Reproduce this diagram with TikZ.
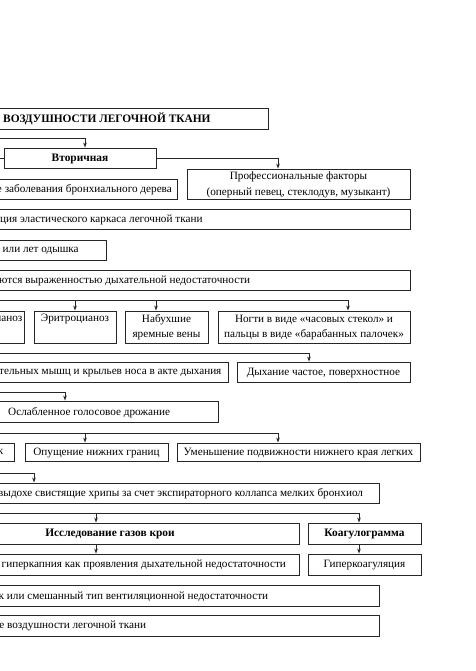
\documentclass[tikz,border=0pt]{standalone}
\usepackage{fontspec}
\setmainfont{Liberation Serif}
\usetikzlibrary{arrows.meta,fit}
\begin{document}
\begin{tikzpicture}[x=1pt,y=-1pt, font=\fontsize{11.2}{15.2}\selectfont,
  box/.style={draw=black!85, line width=0.9pt, inner sep=0pt},
  conn/.style={draw=black!85, line width=0.9pt},
  arr/.style={conn, -{Stealth[length=5pt,width=3.6pt]}},
  txt/.style={inner sep=0pt, anchor=west, yshift=-0.8pt},
  rtxt/.style={inner sep=0pt, anchor=east, yshift=-0.8pt},
  ctxt/.style={inner sep=0pt, align=center, yshift=-0.8pt},
  bold/.style={font=\fontsize{11.4}{15.2}\selectfont\bfseries}]
\useasboundingbox (0,0) rectangle (475,671);
\clip (0,0) rectangle (475,671);

% boxes
\node[box, fit={(-20,108)(268,129)}] (title) {};
\node[txt, bold] (ttitle) at (3,118.5) {ВОЗДУШНОСТИ ЛЕГОЧНОЙ ТКАНИ};
\node[box, fit={(4,148)(156,168)}] (vtor) {};
\node[ctxt, bold] (tvtor) at (vtor.center) {Вторичная};
\node[box, fit={(187,169)(410,199)}] (prof) {};
\node[ctxt] (tprof) at (prof.center) {Профессиональные факторы\\(оперный певец, стеклодув, музыкант)};
\node[box, fit={(-20,179)(177,199)}] (bronch) {};
\node[txt] (tbronch) at (-3.2,189) {е заболевания бронхиального дерева};
\node[box, fit={(-20,209)(410,229)}] (elast) {};
\node[txt] (telast) at (0,219) {ция эластического каркаса легочной ткани};
\node[box, fit={(-20,240)(106,260)}] (odysh) {};
\node[txt] (todysh) at (2.5,250) {или лет одышка};
\node[box, fit={(-20,270)(410,290)}] (vyr) {};
\node[txt] (tvyr) at (-1,280) {ются выраженностью дыхательной недостаточности};

\node[box, fit={(-20,311)(24,343)}] (cyan) {};
\node[rtxt] (tcyan) at (22.5,318.5) {ианоз};
\node[box, fit={(34,311)(116,343)}] (eritr) {};
\node[ctxt] (teritr) at (75,318.5) {Эритроцианоз};
\node[box, fit={(125,311)(208,343)}] (nabukh) {};
\node[ctxt] (tnabukh) at (166.5,326.5) {Набухшие\\яремные вены};
\node[box, fit={(218,311)(410,343)}] (nogti) {};
\node[ctxt] (tnogti) at (314,326.5) {Ногти в виде «часовых стекол» и\\пальцы в виде «барабанных палочек»};

\node[box, fit={(-20,362)(228,382)}] (musc) {};
\node[txt] (tmusc) at (-1,372) {тельных мышц и крыльев носа в акте дыхания};
\node[box, fit={(237,362)(410,382)}] (breath) {};
\node[ctxt] (tbreath) at (breath.center) {Дыхание частое, поверхностное};

\node[box, fit={(-20,401)(218,422)}] (trem) {};
\node[txt] (ttrem) at (8,411.5) {Ослабленное голосовое дрожание};

\node[box, fit={(-20,443)(14,461)}] (perc) {};
\node[rtxt] (tperc) at (3.5,452) {звук};
\node[box, fit={(25,443)(168,461)}] (opush) {};
\node[ctxt] (topush) at (opush.center) {Опущение нижних границ};
\node[box, fit={(177,443)(420,461)}] (umen) {};
\node[ctxt] (tumen) at (umen.center) {Уменьшение подвижности нижнего края легких};

\node[box, fit={(-20,483)(379,503)}] (wheeze) {};
\node[txt] (twheeze) at (-2,493) {выдохе свистящие хрипы за счет экспираторного коллапса мелких бронхиол};

\node[box, fit={(-20,523)(299,544)}] (gas) {};
\node[ctxt, bold] (tgas) at (110,533.5) {Исследование газов крои};
\node[box, fit={(308,523)(421,544)}] (coag) {};
\node[ctxt, bold] (tcoag) at (coag.center) {Коагулограмма};

\node[box, fit={(-20,554)(299,575)}] (hcap) {};
\node[txt] (thcap) at (1.5,564.5) {гиперкапния как проявления дыхательной недостаточности};
\node[box, fit={(308,554)(421,575)}] (hcoag) {};
\node[ctxt] (thcoag) at (hcoag.center) {Гиперкоагуляция};

\node[box, fit={(-20,585)(379,606)}] (vent) {};
\node[txt] (tvent) at (-1.5,595.5) {к или смешанный тип вентиляционной недостаточности};
\node[box, fit={(-20,615)(379,636)}] (airy) {};
\node[txt] (tairy) at (-0.8,625.5) {е воздушности легочной ткани};

% arrow targets
\coordinate (avtor) at ([xshift=5pt]vtor.north);
\coordinate (aprof) at ([xshift=-20.5pt]prof.north);
\coordinate (anogti) at ([xshift=34pt]nogti.north);
\coordinate (anab) at ([xshift=-10.5pt]nabukh.north);
\coordinate (abreath) at ([xshift=-14.5pt]breath.north);
\coordinate (atrem) at ([xshift=-34pt]trem.north);
\coordinate (aumen) at ([xshift=-20.5pt]umen.north);
\coordinate (aopush) at ([xshift=-11.5pt]opush.north);
\coordinate (awheeze) at ([xshift=-145.5pt]wheeze.north);
\coordinate (acoag) at ([xshift=-5.5pt]coag.north);
\coordinate (agas) at ([xshift=-43.5pt]gas.north);
\coordinate (sgas) at ([xshift=-43.5pt]gas.south);
\coordinate (ahcap) at ([xshift=-43.5pt]hcap.north);
\coordinate (scoag) at ([xshift=-5.5pt]coag.south);
\coordinate (ahcoag) at ([xshift=-5.5pt]hcoag.north);

% connectors
\coordinate (l1) at (-5,138);
\draw[arr] (l1) -| (avtor);
\coordinate (l2) at (-5,158);
\draw[conn] (l2) -- (vtor.west);
\draw[arr] (vtor.east) -| (aprof);

\coordinate (l3) at (-5,300);
\draw[arr] (l3) -| (anogti);
\draw[arr] (l3 -| eritr.north) -- (eritr.north);
\draw[arr] (l3 -| anab) -- (anab);

\coordinate (l4) at (-5,353);
\draw[arr] (l4) -| (abreath);

\coordinate (l5) at (-5,392);
\draw[arr] (l5) -| (atrem);

\coordinate (l6) at (-5,433);
\draw[arr] (l6) -| (aumen);
\draw[arr] (l6 -| aopush) -- (aopush);

\coordinate (l7) at (-5,473);
\draw[arr] (l7) -| (awheeze);

\coordinate (l8) at (-5,513);
\draw[arr] (l8) -| (acoag);
\draw[arr] (l8 -| agas) -- (agas);

\draw[arr] (sgas) -- (ahcap);
\draw[arr] (scoag) -- (ahcoag);
\end{tikzpicture}
\end{document}
